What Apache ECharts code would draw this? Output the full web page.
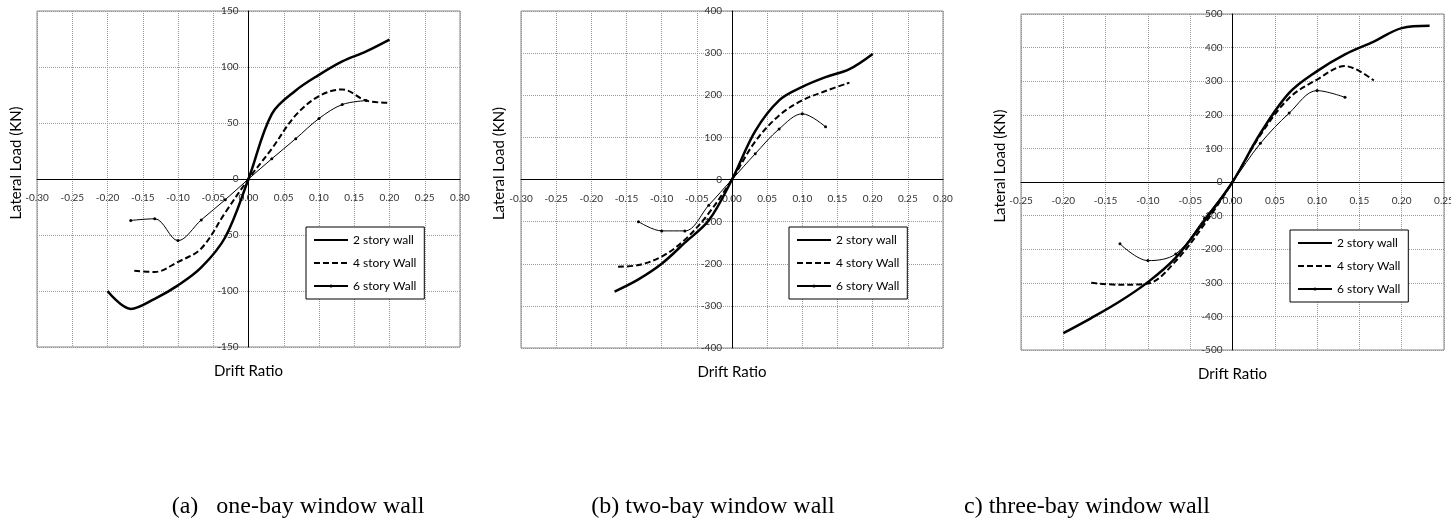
<!DOCTYPE html>
<html>
<head>
<meta charset="utf-8">
<script src="https://cdn.jsdelivr.net/npm/echarts@6/dist/echarts.min.js"></script>
<style>
  html, body { margin: 0; padding: 0; background: #fff; }
  #chart { width: 1451px; height: 526px; }
</style>
</head>
<body>
<div id="chart"></div>
<script>
// (a) one-bay window wall
var driftA2 = [-0.2, -0.167, -0.133, -0.1, -0.067, -0.033, 0, 0.033, 0.067, 0.1, 0.133, 0.167, 0.2];
var loadA2 = [-100, -116, -107, -95, -79, -52, 0, 58, 79, 93, 105, 114, 124.5];
var driftA4 = [-0.162, -0.133, -0.1, -0.067, -0.033, 0, 0.033, 0.067, 0.1, 0.133, 0.167, 0.2];
var loadA4 = [-82, -83, -74, -62, -30, 0, 27, 57, 74, 80, 70, 68];
var driftA6 = [-0.167, -0.133, -0.1, -0.067, -0.033, 0, 0.033, 0.067, 0.1, 0.133, 0.167];
var loadA6 = [-37, -35.5, -55, -36.5, -18.5, 0, 18, 36, 54, 66.5, 70];

// (b) two-bay window wall
var driftB2 = [-0.167, -0.133, -0.1, -0.067, -0.033, 0, 0.033, 0.067, 0.1, 0.133, 0.167, 0.2];
var loadB2 = [-266, -237, -200, -150, -97, 0, 115, 188, 220, 243, 262, 298];
var driftB4 = [-0.162, -0.133, -0.1, -0.067, -0.033, 0, 0.033, 0.067, 0.1, 0.133, 0.167];
var loadB4 = [-207, -203, -183, -143, -80, 0, 90, 152, 188, 210, 230];
var driftB6 = [-0.133, -0.1, -0.067, -0.033, 0, 0.033, 0.067, 0.1, 0.133];
var loadB6 = [-100, -122, -122, -61, 0, 61, 120, 156, 125];

// (c) three-bay window wall
var driftC2 = [-0.2, -0.167, -0.133, -0.1, -0.067, -0.033, 0, 0.033, 0.067, 0.1, 0.133, 0.167, 0.2, 0.233];
var loadC2 = [-450, -405, -355, -298, -225, -115, 0, 145, 265, 330, 380, 418, 458, 465];
var driftC4 = [-0.167, -0.133, -0.1, -0.067, -0.033, 0, 0.033, 0.067, 0.1, 0.133, 0.167];
var loadC4 = [-300, -306, -302, -235, -125, 0, 140, 250, 305, 345, 302];
var driftC6 = [-0.133, -0.1, -0.067, -0.033, 0, 0.033, 0.067, 0.1, 0.133];
var loadC6 = [-184, -234, -214, -108, 0, 115, 205, 272, 252];

var seriesNames = ['2 story wall', '4 story Wall', '6 story Wall'];
var captions = ['(a)   one-bay window wall', '(b) two-bay window wall', 'c) three-bay window wall'];

var labelFont = 'Lato';

function pairs(xs, ys) {
    var out = [];
    for (var i = 0; i < xs.length; i++) {
        out.push([xs[i], ys[i]]);
    }
    return out;
}

// 每个子图的位置和坐标范围
var panels = [
    { grid: { left: 37, top: 11, width: 423, height: 336 }, xMax: 0.3, yMax: 150, yStep: 50,
      legend: { left: 306, top: 227 }, capX: 298,
      data: [[driftA2, loadA2], [driftA4, loadA4], [driftA6, loadA6]] },
    { grid: { left: 521, top: 11, width: 422, height: 337 }, xMax: 0.3, yMax: 400, yStep: 100,
      legend: { left: 789, top: 227 }, capX: 713,
      data: [[driftB2, loadB2], [driftB4, loadB4], [driftB6, loadB6]] },
    { grid: { left: 1021, top: 14, width: 423, height: 336 }, xMax: 0.25, yMax: 500, yStep: 100,
      legend: { left: 1290, top: 230 }, capX: 1087,
      data: [[driftC2, loadC2], [driftC4, loadC4], [driftC6, loadC6]] }
];

var grids = [], xAxes = [], yAxes = [], legends = [], series = [], graphics = [];

panels.forEach(function(p, i) {
    grids.push({
        left: p.grid.left, top: p.grid.top, width: p.grid.width, height: p.grid.height,
        containLabel: false, outerBoundsMode: 'none',
        show: true, borderColor: '#888', borderWidth: 1, backgroundColor: '#fff'
    });
    // 坐标轴通过 offset 移到图中心 (零点处)
    xAxes.push({
        gridIndex: i, type: 'value', min: -p.xMax, max: p.xMax, interval: 0.05,
        position: 'bottom', offset: -p.grid.height / 2,
        name: 'Drift Ratio', nameLocation: 'middle', nameGap: 185,
        nameTextStyle: { fontSize: 15, fontFamily: labelFont, color: '#000' },
        axisLine: { onZero: false, lineStyle: { color: '#000', width: 1 } },
        axisTick: { show: false },
        axisLabel: {
            margin: 14, fontSize: 10, fontFamily: labelFont, color: '#333',
            formatter: function(v) { return v.toFixed(2); }
        },
        splitLine: { show: true, lineStyle: { color: '#999', type: 'dotted', width: 1 } }
    });
    yAxes.push({
        gridIndex: i, type: 'value', min: -p.yMax, max: p.yMax, interval: p.yStep,
        position: 'left', offset: -p.grid.width / 2,
        name: 'Lateral Load (KN)', nameLocation: 'middle', nameGap: 225,
        nameTextStyle: { fontSize: 15, fontFamily: labelFont, color: '#000', padding: [0, 0, 0, 32] },
        axisLine: { onZero: false, lineStyle: { color: '#000', width: 1 } },
        axisTick: { show: false },
        axisLabel: { margin: 10, fontSize: 10, fontFamily: labelFont, color: '#333' },
        splitLine: { show: true, lineStyle: { color: '#999', type: 'dotted', width: 1 } }
    });
    legends.push({
        data: [
            { name: seriesNames[0], itemStyle: { opacity: 0 } },
            { name: seriesNames[1], itemStyle: { opacity: 0 } },
            { name: seriesNames[2] }
        ],
        orient: 'vertical', left: p.legend.left, top: p.legend.top,
        itemWidth: 34, itemHeight: 4, itemGap: 11,
        padding: [7, 8, 7, 7], borderColor: '#000', borderWidth: 1, backgroundColor: '#fff',
        selectedMode: false,
        textStyle: { fontSize: 12, fontFamily: labelFont, color: '#000' }
    });

    series.push({
        name: seriesNames[0], type: 'line', xAxisIndex: i, yAxisIndex: i,
        data: pairs(p.data[0][0], p.data[0][1]), smooth: 0.35, showSymbol: false, symbol: 'none',
        lineStyle: { color: '#000', width: 2.5 }, itemStyle: { color: '#000' }, z: 4
    });
    series.push({
        name: seriesNames[1], type: 'line', xAxisIndex: i, yAxisIndex: i,
        data: pairs(p.data[1][0], p.data[1][1]), smooth: 0.35, showSymbol: false, symbol: 'none',
        lineStyle: { color: '#000', width: 2, type: [6, 3] }, itemStyle: { color: '#000' }, z: 3
    });
    series.push({
        name: seriesNames[2], type: 'line', xAxisIndex: i, yAxisIndex: i,
        data: pairs(p.data[2][0], p.data[2][1]), smooth: 0.35, symbol: 'circle', symbolSize: 3,
        lineStyle: { color: '#000', width: 1 }, itemStyle: { color: '#000' }, z: 5
    });

    graphics.push({
        type: 'text', x: p.capX, y: 507,
        style: {
            text: captions[i], fontSize: 24, fontFamily: 'Liberation Serif', fill: '#000',
            align: 'center', verticalAlign: 'middle'
        }
    });
});

var chart = echarts.init(document.getElementById('chart'), null, { renderer: 'canvas' });
chart.setOption({
    animation: false,
    backgroundColor: '#fff',
    grid: grids,
    xAxis: xAxes,
    yAxis: yAxes,
    legend: legends,
    series: series,
    graphic: graphics
});
</script>
</body>
</html>
